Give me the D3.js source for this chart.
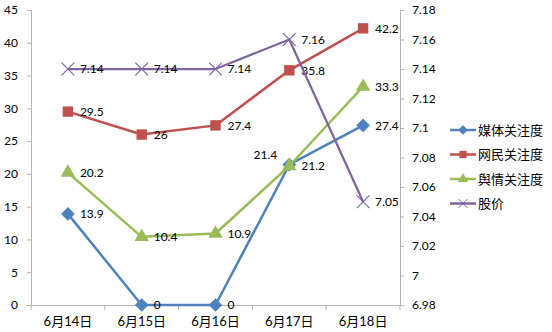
<!DOCTYPE html>
<html>
<head>
<meta charset="utf-8">
<script src="https://cdn.jsdelivr.net/npm/d3@7"></script>
<style>
  html, body { margin: 0; padding: 0; background: #fff; }
  svg text { font-family: Lato, "Noto Sans CJK SC", sans-serif; fill: #000; }
</style>
</head>
<body>
<svg id="chart" width="552" height="332"></svg>
<script>
// Dates on the x axis
const days = ["6月14日", "6月15日", "6月16日", "6月17日", "6月18日"];

// Attention indices (left axis)
const mediaAttention = [13.9, 0, 0, 21.4, 27.4];
const netizenAttention = [29.5, 26, 27.4, 35.8, 42.2];
const opinionAttention = [20.2, 10.4, 10.9, 21.2, 33.3];

// Share price (right axis)
const sharePrice = [7.14, 7.14, 7.14, 7.16, 7.05];

const leftTicks = [0, 5, 10, 15, 20, 25, 30, 35, 40, 45];
const rightTicks = [6.98, 7, 7.02, 7.04, 7.06, 7.08, 7.1, 7.12, 7.14, 7.16, 7.18];

const seriesNames = ["媒体关注度", "网民关注度", "舆情关注度", "股价"];
const seriesColors = ["#4F81BD", "#C0504D", "#9BBB59", "#8064A2"];
const seriesSymbols = ["diamond", "square", "triangle", "cross"];

const svg = d3.select("#chart");
const plot = { left: 31, right: 400, top: 10, bottom: 305 };
const axisColor = "#B3B3B3";

const x = d3.scaleBand().domain(days).range([plot.left, plot.right]);
const yL = d3.scaleLinear().domain([0, 45]).range([plot.bottom, plot.top]);
const yR = d3.scaleLinear().domain([6.98, 7.18]).range([plot.bottom, plot.top]);
const cx = d => x(d) + x.bandwidth() / 2;

// Left axis
const gL = svg.append("g").attr("transform", `translate(${plot.left},0)`)
  .call(d3.axisLeft(yL).tickValues(leftTicks).tickSize(4).tickPadding(9).tickFormat(d3.format("d")));
// Right axis
const gR = svg.append("g").attr("transform", `translate(${plot.right},0)`)
  .call(d3.axisRight(yR).tickValues(rightTicks).tickSize(4).tickPadding(8)
    .tickFormat(d => String(+d.toFixed(2))));
// Bottom axis, ticks at category boundaries
const gB = svg.append("g").attr("transform", `translate(0,${plot.bottom})`)
  .call(d3.axisBottom(x).tickSize(0).tickPadding(10));
gB.selectAll(".tick line").remove();
const bounds = days.map(d => x(d)).concat([plot.right]);
gB.selectAll("line.bound").data(bounds).join("line")
  .attr("class", "bound").attr("x1", d => d).attr("x2", d => d)
  .attr("y1", 0).attr("y2", 5).attr("stroke", axisColor);

[gL, gR, gB].forEach(g => {
  g.select(".domain").attr("stroke", axisColor).attr("stroke-width", 1);
  g.selectAll(".tick line").attr("stroke", axisColor);
  g.selectAll("text").attr("font-size", 12).attr("fill", "#000");
});
gB.selectAll("text").attr("font-size", 13).attr("dy", "0.85em");

function symbolPath(kind, size) {
  if (kind === "diamond") return d3.symbol(d3.symbolDiamond2, size * 10)();
  if (kind === "square") return d3.symbol(d3.symbolSquare, size * 9)();
  if (kind === "triangle") return d3.symbol(d3.symbolTriangle, size * 7.5)();
  return d3.symbol(d3.symbolX, size * 9)();
}

function drawSeries(values, scale, i, labelFmt, labelOffsets) {
  const color = seriesColors[i];
  const pts = values.map((v, k) => [cx(days[k]), scale(v)]);
  svg.append("path").attr("d", d3.line()(pts))
    .attr("fill", "none").attr("stroke", color)
    .attr("stroke-width", i === 3 ? 2.25 : 2.5).attr("stroke-linejoin", "round");
  const sym = seriesSymbols[i];
  svg.append("g").selectAll("path").data(pts).join("path")
    .attr("transform", p => `translate(${p[0]},${p[1]})`)
    .attr("d", symbolPath(sym, 12))
    .attr("fill", sym === "cross" ? "none" : color)
    .attr("stroke", color).attr("stroke-width", sym === "cross" ? 1.2 : 0);
  svg.append("g").selectAll("text").data(values).join("text")
    .attr("x", (v, k) => pts[k][0] + (labelOffsets[k] ? labelOffsets[k][0] : 12))
    .attr("y", (v, k) => pts[k][1] + (labelOffsets[k] ? labelOffsets[k][1] : 0))
    .attr("text-anchor", (v, k) => labelOffsets[k] ? "end" : "start")
    .attr("dy", "0.35em").attr("font-size", 12)
    .text(labelFmt);
}

drawSeries(mediaAttention, yL, 0, d => d, { 3: [-12, -10] });
drawSeries(netizenAttention, yL, 1, d => d, {});
drawSeries(opinionAttention, yL, 2, d => d, {});
drawSeries(sharePrice, yR, 3, d => d, {});

// Legend
const legend = svg.append("g").attr("transform", "translate(450,130)");
seriesNames.forEach((name, i) => {
  const g = legend.append("g").attr("transform", `translate(0,${i * 24.5})`);
  g.append("line").attr("x1", 0).attr("x2", 26).attr("y1", 0).attr("y2", 0)
    .attr("stroke", seriesColors[i]).attr("stroke-width", 2.5);
  g.append("path").attr("transform", "translate(13,0)")
    .attr("d", symbolPath(seriesSymbols[i], 6))
    .attr("fill", seriesSymbols[i] === "cross" ? "none" : seriesColors[i])
    .attr("stroke", seriesColors[i]).attr("stroke-width", seriesSymbols[i] === "cross" ? 1 : 0);
  g.append("text").attr("x", 28).attr("y", 0).attr("dy", "0.35em")
    .attr("font-size", 13).text(name);
});
</script>
</body>
</html>
